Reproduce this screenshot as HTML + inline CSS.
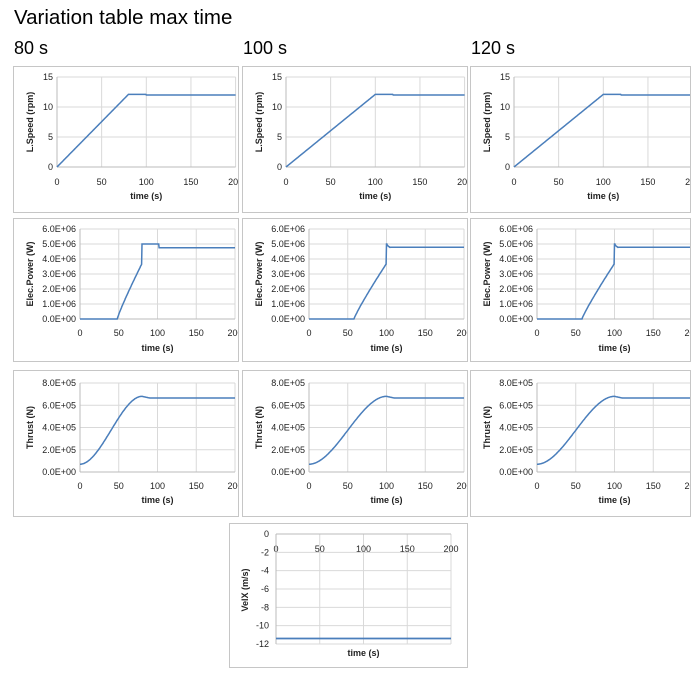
<!DOCTYPE html>
<html><head><meta charset="utf-8"><style>
body{margin:0;width:700px;height:673px;background:#fff;position:relative;overflow:hidden;font-family:"Liberation Sans",Arial,sans-serif}
.p{position:absolute;border:1px solid #c6c6c6;overflow:hidden;background:#fff}
.p svg{position:absolute}
text{font-family:"Liberation Sans",Arial,sans-serif;font-size:9px;fill:#222}
.t{font-weight:bold;font-size:9px}
h1{position:absolute;margin:0;font-weight:normal;font-size:20.5px;left:14px;top:6px}
h2{position:absolute;margin:0;font-weight:normal;font-size:18px;top:38px}
</style></head><body>
<h1>Variation table max time</h1>
<h2 style="left:14px">80 s</h2><h2 style="left:243px">100 s</h2><h2 style="left:471px">120 s</h2>
<div id="root"></div>
<script>
var NS='http://www.w3.org/2000/svg';
var root=document.getElementById('root');
var LINE='#4a7ebb',GRID='#d9d9d9';
function panel(l,t,w,h){var d=document.createElement('div');d.className='p';d.style.left=l+'px';d.style.top=t+'px';d.style.width=w+'px';d.style.height=h+'px';
var s=document.createElementNS(NS,'svg');s.setAttribute('width',700);s.setAttribute('height',673);s.style.left=(-l-1)+'px';s.style.top=(-t-1)+'px';d.appendChild(s);root.appendChild(d);return s;}
function el(s,n,a,txt){var e=document.createElementNS(NS,n);for(var k in a)e.setAttribute(k,a[k]);if(txt!==undefined)e.textContent=txt;s.appendChild(e);return e;}
function chart(s,o){
 var xs=[0,50,100,150,200];
 xs.forEach(function(v){var x=o.x0+v*o.sx;el(s,'line',{x1:x,x2:x,y1:o.ytop,y2:o.ybot,stroke:GRID,'stroke-width':1});
  el(s,'text',{x:x,y:o.xlabY,'text-anchor':'middle'},String(v));});
 var n=o.ylabels.length;
 for(var i=0;i<n;i++){var y=o.ybot-(o.ybot-o.ytop)*i/(n-1);
  el(s,'line',{x1:o.x0,x2:o.x0+200*o.sx,y1:y,y2:y,stroke:i==0?'#bbb':GRID,'stroke-width':1});
  el(s,'text',{x:o.x0-4,y:y+3,'text-anchor':'end'},o.ylabels[i]);}
 el(s,'line',{x1:o.x0,x2:o.x0,y1:o.ytop,y2:o.ybot,stroke:'#bbb'});
 el(s,'text',{x:o.x0+100*o.sx,y:o.titleY,'text-anchor':'middle','class':'t'},'time (s)');
 el(s,'text',{x:0,y:0,'text-anchor':'middle','class':'t',transform:'translate('+o.yTitleX+','+((o.ybot+o.ytop)/2)+') rotate(-90)'},o.yTitle);
 var d='';for(var t=0;t<=200;t+=0.5){var v=o.fn(t);var x=o.x0+t*o.sx,y=o.ybot-(o.ybot-o.ytop)*v;d+=(t?'L':'M')+x.toFixed(1)+' '+y.toFixed(1);}
 el(s,'path',{d:d,fill:'none',stroke:LINE,'stroke-width':1.5});
}
var Ls=[13,242,470],Ts=[80,100,100];
for(var c=0;c<3;c++){
 var L=Ls[c],T=Ts[c],w=c==2?219:224;
 (function(T){
 var s=panel(L,66,w,145);
 chart(s,{x0:[57,286,514][c],sx:0.893,ybot:167,ytop:77,ylabels:['0','5','10','15'],xlabY:185,titleY:199,yTitle:'L.Speed (rpm)',yTitleX:L+20,
  fn:function(t){return (t<T?12.1*t/T:(t<T+20?12.1:12))/15;}});
 s=panel(L,218,w,142);
 var p0=T==80?48:58;
 chart(s,{x0:[80,309,537][c],sx:0.775,ybot:319,ytop:229,ylabels:['0.0E+00','1.0E+06','2.0E+06','3.0E+06','4.0E+06','5.0E+06','6.0E+06'],xlabY:336,titleY:351,yTitle:'Elec.Power (W)',yTitleX:L+20,
  fn:function(t){var v;if(t<p0)v=0;else if(t<T){var f=(t-p0)/(T-p0);v=3.7*Math.pow(f,0.9);}
   else if(T==80){v=t<102?5:4.75;}else{v=t<T+1?5:(t<T+5?4.95-0.04*(t-T):4.78);} return v/6;}});
 s=panel(L,370,w,145);
 chart(s,{x0:[80,309,537][c],sx:0.775,ybot:472,ytop:383,ylabels:['0.0E+00','2.0E+05','4.0E+05','6.0E+05','8.0E+05'],xlabY:489,titleY:503,yTitle:'Thrust (N)',yTitleX:L+20,
  fn:function(t){var v;if(t<T){var f=t/T;v=0.7+(6.8-0.7)*(f*f*(3-2*f));}else v=t<T+10?6.8-0.015*(t-T):6.65;return v/8;}});
 })(T);
}
var s=panel(229,523,237,143);
(function(){var x0=276,sx=0.875,y0=534,py=110/12;
 [0,50,100,150,200].forEach(function(v){var x=x0+v*sx;el(s,'line',{x1:x,x2:x,y1:y0,y2:y0+12*py,stroke:GRID});el(s,'text',{x:x,y:552,'text-anchor':'middle'},String(v));});
 for(var i=0;i<=6;i++){var y=y0+i*2*py;el(s,'line',{x1:x0,x2:x0+200*sx,y1:y,y2:y,stroke:i==0?'#bbb':GRID});el(s,'text',{x:x0-7,y:y+3,'text-anchor':'end'},i==0?'0':String(-2*i));}
 el(s,'line',{x1:x0,x2:x0,y1:y0,y2:y0+12*py,stroke:'#bbb'});
 el(s,'line',{x1:x0,x2:x0+200*sx,y1:y0+11.4*py,y2:y0+11.4*py,stroke:LINE,'stroke-width':1.8});
 el(s,'text',{x:x0+100*sx,y:656,'text-anchor':'middle','class':'t'},'time (s)');
 el(s,'text',{x:0,y:0,'text-anchor':'middle','class':'t',transform:'translate(248,590) rotate(-90)'},'VelX (m/s)');
})();
</script>
</body></html>
